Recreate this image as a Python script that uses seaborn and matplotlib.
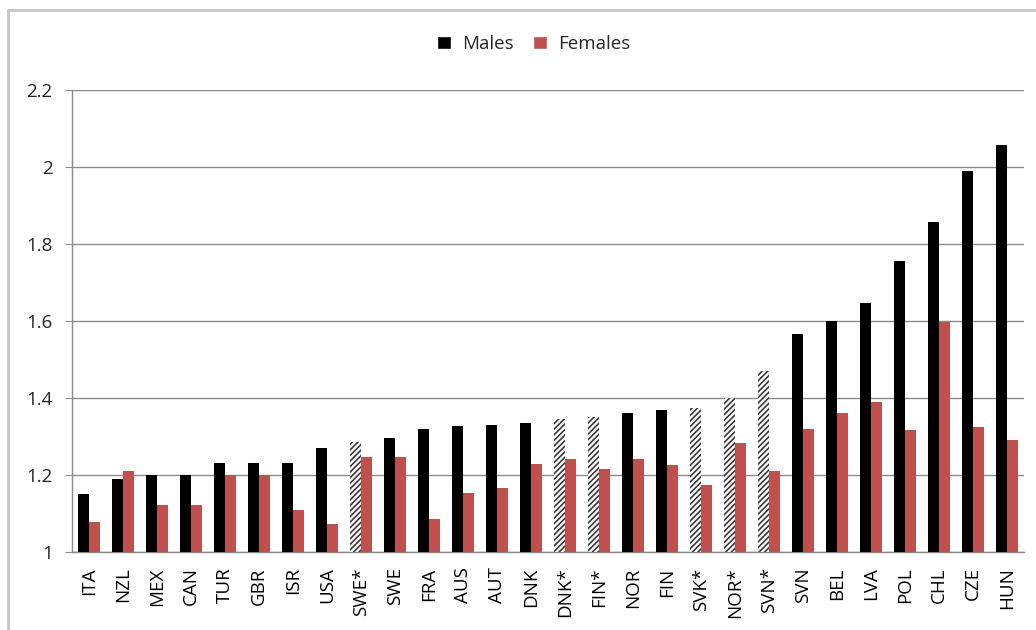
import matplotlib
matplotlib.use("Agg")
import matplotlib.pyplot as plt
from matplotlib.patches import Patch
from matplotlib.lines import Line2D
import seaborn as sns
import pandas as pd

countries = ["ITA", "NZL", "MEX", "CAN", "TUR", "GBR", "ISR", "USA", "SWE*", "SWE",
             "FRA", "AUS", "AUT", "DNK", "DNK*", "FIN*", "NOR", "FIN", "SVK*", "NOR*",
             "SVN*", "SVN", "BEL", "LVA", "POL", "CHL", "CZE", "HUN"]
males = [1.15, 1.19, 1.20, 1.20, 1.23, 1.23, 1.23, 1.27, 1.285, 1.297,
         1.32, 1.327, 1.33, 1.335, 1.345, 1.35, 1.362, 1.37, 1.375, 1.40,
         1.47, 1.565, 1.60, 1.647, 1.757, 1.857, 1.99, 2.057]
females = [1.078, 1.21, 1.122, 1.122, 1.20, 1.20, 1.11, 1.073, 1.247, 1.247,
           1.086, 1.153, 1.166, 1.229, 1.242, 1.216, 1.242, 1.226, 1.174, 1.283,
           1.21, 1.32, 1.36, 1.39, 1.317, 1.597, 1.325, 1.29]

male_color = "#000000"
female_color = "#C0504D"
grid_color = "#8C8C8C"

df = pd.DataFrame({"Country": countries, "Males": males, "Females": females})
long = df.melt(id_vars="Country", var_name="Sex", value_name="Ratio")

sns.set_style("white")
plt.rcParams["font.family"] = ["Open Sans", "DejaVu Sans"]
plt.rcParams["hatch.linewidth"] = 1.2

fig = plt.figure(figsize=(10.36, 6.3), dpi=100)
ax = fig.add_axes([72 / 1036, 1 - 552 / 630, (1024 - 72) / 1036, (552 - 90) / 630])

sns.barplot(data=long, x="Country", y="Ratio", hue="Sex",
            palette={"Males": male_color, "Females": female_color},
            width=0.62, saturation=1, errorbar=None, legend=False, ax=ax, zorder=3)

# starred countries: male bar drawn hatched
for bar, name in zip(ax.containers[0], countries):
    bar.set_linewidth(0)
    if name.endswith("*"):
        bar.set_facecolor("white")
        bar.set_hatch("//////")
        bar.set_edgecolor("#3A3A3A")
for bar in ax.containers[1]:
    bar.set_linewidth(0)

ax.set_ylim(1, 2.2)
ax.set_xlim(-0.5, len(countries) - 0.5)
ax.set_yticks([1, 1.2, 1.4, 1.6, 1.8, 2, 2.2])
ax.set_yticklabels(["1", "1.2", "1.4", "1.6", "1.8", "2", "2.2"])
ax.yaxis.grid(True, color=grid_color, linewidth=1, zorder=0)
ax.set_axisbelow(True)

ax.set_xticks(range(len(countries)))
ax.set_xticklabels(countries, rotation=90)
ax.set_xticks([i - 0.5 for i in range(len(countries) + 1)], minor=True)
ax.tick_params(axis="x", which="major", length=0, pad=11, labelsize=13.5, colors="black")
ax.tick_params(axis="x", which="minor", length=4, color=grid_color, direction="out")
ax.tick_params(axis="y", length=5, color=grid_color, labelsize=13.5, pad=9, left=True)
ax.set_xlabel("")
ax.set_ylabel("")

for side in ["top", "right"]:
    ax.spines[side].set_visible(False)
for side in ["left", "bottom"]:
    ax.spines[side].set_color(grid_color)
    ax.spines[side].set_linewidth(1)

handles = [Patch(facecolor=male_color, label="Males"),
           Patch(facecolor=female_color, label="Females")]
fig.legend(handles=handles, loc="center", bbox_to_anchor=(533.5 / 1036, 1 - 44 / 630), ncol=2,
           frameon=False, fontsize=13.5, handlelength=0.75, handleheight=0.75,
           columnspacing=1.0, handletextpad=0.6)

# chart-area border (left and top edges visible in the crop)
border = dict(transform=fig.transFigure, color="#C4C4C4", linewidth=2)
fig.add_artist(Line2D([8 / 1036, 8 / 1036], [0, 1 - 10 / 630], **border))
fig.add_artist(Line2D([8 / 1036, 1], [1 - 10 / 630, 1 - 10 / 630], **border))

fig.savefig("out.png", dpi=100)
